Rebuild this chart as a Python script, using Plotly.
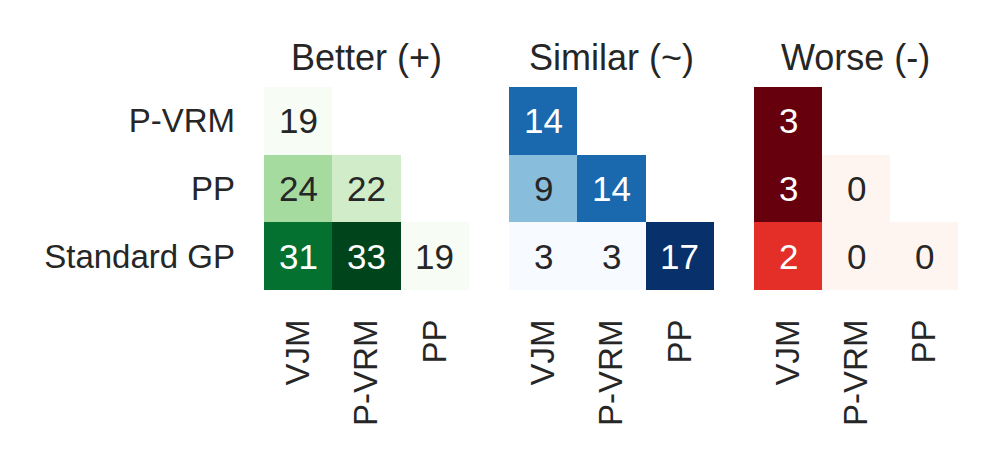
import plotly.graph_objects as go
import plotly.colors as pc

# data
methods_x = ["VJM", "P-VRM", "PP"]
methods_y = ["P-VRM", "PP", "Standard GP"]
better = [[19, None, None], [24, 22, None], [31, 33, 19]]
similar = [[14, None, None], [9, 14, None], [3, 3, 17]]
worse = [[3, None, None], [3, 0, None], [2, 0, 0]]
panel_titles = ["Better (+)", "Similar (~)", "Worse (-)"]

FONT = "Liberation Sans, Arial, Helvetica, sans-serif"
DARK = "#262626"
SCALES = [pc.sequential.Greens, pc.sequential.Blues, pc.sequential.Reds]
W, H, OFF = 996, 468, 8  # page body has an 8px margin
DOMAINS = [((a - OFF) / W, (b - OFF) / W) for a, b in [(264, 469), (509, 714), (754, 958)]]
Y_DOMAIN = (1 - (290 - OFF) / H, 1 - (87 - OFF) / H)


def lum(rgb_str):
    # seaborn-style relative luminance to pick text colour
    r, g, b = [v / 255 for v in pc.unlabel_rgb(rgb_str)]
    lin = [c / 12.92 if c <= 0.03928 else ((c + 0.055) / 1.055) ** 2.4 for c in (r, g, b)]
    return 0.2126 * lin[0] + 0.7152 * lin[1] + 0.0722 * lin[2]


fig = go.Figure()
annotations = []

for i, (z, scale, title) in enumerate(zip([better, similar, worse], SCALES, panel_titles)):
    ax = "" if i == 0 else str(i + 1)
    vals = [v for row in z for v in row if v is not None]
    zmin, zmax = min(vals), max(vals)
    cscale = pc.make_colorscale(scale)
    fig.add_trace(go.Heatmap(
        z=z, x=methods_x, y=methods_y,
        colorscale=cscale, zmin=zmin, zmax=zmax,
        showscale=False, hoverinfo="skip",
        xaxis="x" + ax, yaxis="y" + ax,
    ))
    # cell labels
    for r, row in enumerate(z):
        for c, v in enumerate(row):
            if v is None:
                continue
            t = (v - zmin) / (zmax - zmin)
            col = pc.sample_colorscale(cscale, [t])[0]
            annotations.append(dict(
                x=methods_x[c], y=methods_y[r], xref="x" + ax, yref="y" + ax,
                text=str(v), showarrow=False,
                font=dict(size=35, color=DARK if lum(col) > 0.408 else "white", family=FONT),
            ))
    # panel title
    d0, d1 = DOMAINS[i]
    annotations.append(dict(
        x=(d0 + d1) / 2, y=1 - (58 - OFF) / H, xref="paper", yref="paper",
        text=title, showarrow=False, xanchor="center", yanchor="middle",
        font=dict(size=36, color=DARK, family=FONT),
    ))

    fig.update_layout(**{
        "xaxis" + ax: dict(
            domain=DOMAINS[i], anchor="y" + ax, showgrid=False, zeroline=False,
            showline=False, tickangle=-90, ticks="", ticklabelstandoff=22,
            tickfont=dict(size=33, color=DARK, family=FONT),
            categoryorder="array", categoryarray=methods_x,
        ),
        "yaxis" + ax: dict(
            domain=Y_DOMAIN, anchor="x" + ax, showgrid=False, zeroline=False,
            showline=False, autorange="reversed", ticks="",
            showticklabels=(i == 0), ticklabelstandoff=28,
            tickfont=dict(size=33, color=DARK, family=FONT),
            categoryorder="array", categoryarray=methods_y,
        ),
    })

fig.update_layout(
    width=W, height=H,
    margin=dict(l=0, r=0, t=0, b=0),
    plot_bgcolor="white", paper_bgcolor="white",
    annotations=annotations,
    showlegend=False,
)

fig.write_html("out.html")
